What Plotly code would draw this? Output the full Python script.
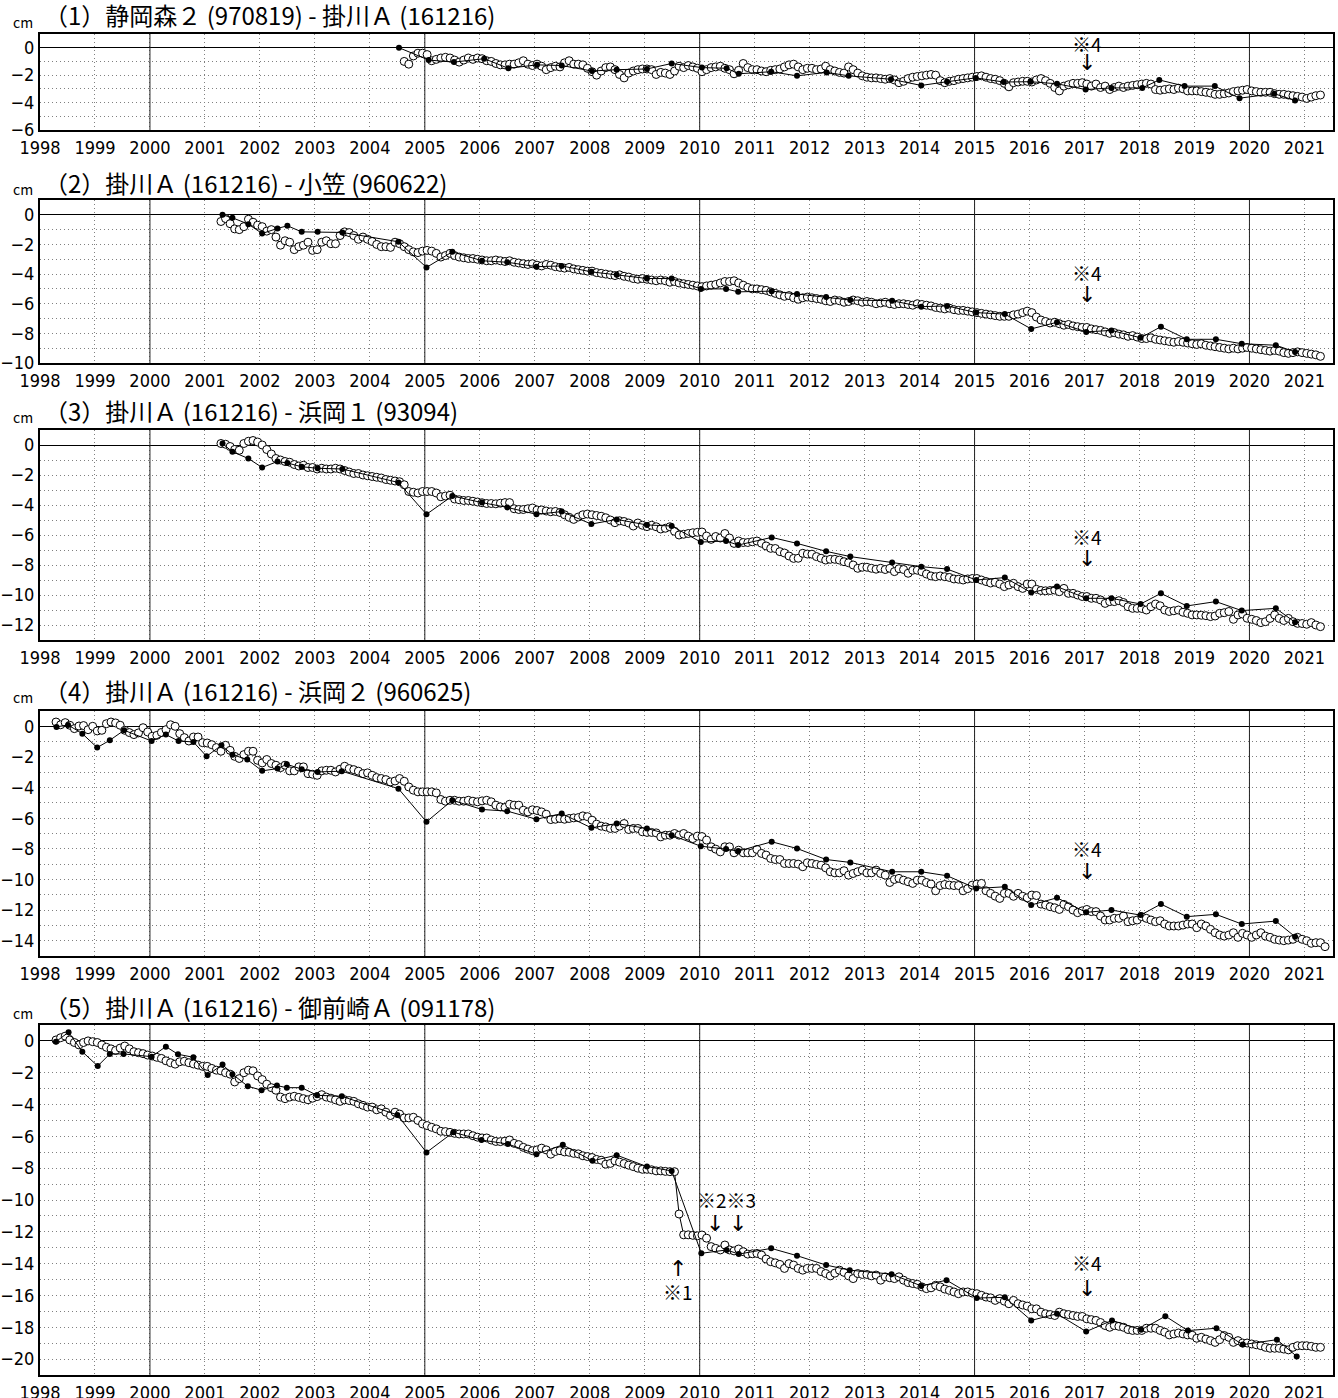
import plotly.graph_objects as go

W, H = 1338, 1398

# ---------------- data ----------------
titles = [
    "（1）静岡森２ (970819) - 掛川Ａ (161216)",
    "（2）掛川Ａ (161216) - 小笠 (960622)",
    "（3）掛川Ａ (161216) - 浜岡１ (93094)",
    "（4）掛川Ａ (161216) - 浜岡２ (960625)",
    "（5）掛川Ａ (161216) - 御前崎Ａ (091178)",
]
years = list(range(1998, 2022))
year_labels = [str(y) for y in years]
major_years = [2000, 2005, 2010, 2015, 2020]

# open circles: monthly values, first month given by *_open_start (year, month)
p1_open_start = (2004, 8)
p1_open = [
    -1.0, -1.2, -0.6, -0.4, -0.4,
    -0.5, -0.95, -0.85, -0.75, -0.7, -0.75, -0.9, -1.05, -0.9, -0.75, -0.85, -0.75,
    -0.8, -0.95, -1.0, -1.15, -1.25, -1.25, -1.2, -1.2, -1.1, -0.95, -1.2, -1.3,
    -1.2, -1.35, -1.6, -1.45, -1.35, -1.4, -1.1, -0.95, -1.2, -1.2, -1.25, -1.5,
    -1.75, -2.0, -1.7, -1.45, -1.4, -1.6, -1.95, -2.2, -1.85, -1.7, -1.6, -1.55,
    -1.55, -1.6, -1.95, -1.8, -1.85, -1.95, -1.7, -1.35, -1.45, -1.3, -1.4, -1.5,
    -1.75, -1.6, -1.45, -1.4, -1.35, -1.5, -1.6, -1.9, -1.65, -1.15, -1.45, -1.6,
    -1.6, -1.7, -1.75, -1.65, -1.6, -1.55, -1.4, -1.25, -1.2, -1.4, -1.6, -1.5,
    -1.5, -1.6, -1.55, -1.35, -1.6, -1.7, -1.8, -1.85, -1.4, -1.6, -1.85, -2.05,
    -2.15, -2.2, -2.2, -2.25, -2.3, -2.25, -2.35, -2.55, -2.45, -2.25, -2.15, -2.1,
    -2.05, -2.0, -1.95, -2.0, -2.4, -2.55, -2.45, -2.4, -2.3, -2.25, -2.2, -2.15,
    -2.1, -2.05, -2.15, -2.25, -2.3, -2.4, -2.6, -2.85, -2.55, -2.5, -2.45, -2.45,
    -2.5, -2.35, -2.25, -2.4, -2.6, -2.9, -3.15, -2.8, -2.7, -2.6, -2.6, -2.55,
    -2.65, -2.8, -2.65, -2.9, -2.8, -3.05, -2.9, -2.8, -2.9, -2.8, -2.75, -2.7,
    -2.65, -2.6, -2.65, -3.05, -3.1, -3.05, -3.0, -3.05, -2.95, -3.0, -3.15, -3.15,
    -3.15, -3.2, -3.25, -3.3, -3.4, -3.4, -3.35, -3.3, -3.2, -3.15, -3.1, -3.05,
    -3.15, -3.2, -3.25, -3.25, -3.25, -3.35, -3.4, -3.4, -3.45, -3.5, -3.55, -3.6,
    -3.7, -3.6, -3.5, -3.45,
]
p1_fill_x = [2004.53, 2005.07, 2005.53, 2006.08, 2006.52, 2007.04, 2007.49, 2008.04, 2008.49,
             2009.04, 2009.49, 2010.04, 2010.49, 2010.71, 2011.30, 2011.77, 2012.31, 2012.71,
             2013.48, 2014.03, 2014.5, 2015.02, 2015.53, 2016.02, 2016.5, 2017.02, 2017.49,
             2018.05, 2018.36, 2018.82, 2019.37, 2019.82, 2020.45, 2020.83]
p1_fill_y = [0.0, -0.9, -1.05, -0.8, -1.5, -1.25, -1.3, -1.7, -1.6, -1.55, -1.15, -1.45, -1.5,
             -1.9, -1.75, -2.05, -1.8, -2.05, -2.3, -2.75, -2.48, -2.2, -2.5, -2.48, -2.63,
             -3.05, -2.93, -2.93, -2.35, -2.8, -2.8, -3.68, -3.35, -3.85]

survey_x_late = [2005.5, 2006.04, 2006.5, 2007.03, 2007.49, 2008.03, 2008.49, 2009.04, 2009.49,
                 2010.02, 2010.48, 2010.7, 2011.31, 2011.77, 2012.3, 2012.74, 2013.5, 2014.03,
                 2014.5, 2015.03, 2015.55, 2016.03, 2016.5, 2017.03, 2017.49, 2018.02, 2018.39,
                 2018.86, 2019.39, 2019.86, 2020.48, 2020.83]

p2_open_start = (2001, 4)
p2_open = [
    -0.45, -0.25, -0.6, -0.95, -1.0, -0.8, -0.3, -0.5, -0.7,
    -0.8, -1.1, -1.0, -1.5, -2.05, -1.75, -1.85, -2.35, -2.15, -2.05, -1.85, -2.4,
    -2.35, -1.85, -1.75, -1.95, -1.95, -1.4, -1.15, -1.2, -1.4, -1.65, -1.5, -1.65,
    -1.8, -2.0, -2.15, -2.15, -2.2, -1.85, -1.95, -2.15, -2.35, -2.5, -2.55, -2.45,
    -2.4, -2.45, -2.6, -2.85, -2.75, -2.6, -2.75, -2.85, -2.9, -2.95, -2.95, -3.0,
    -3.05, -3.1, -3.1, -3.05, -3.1, -3.15, -3.1, -3.2, -3.25, -3.3, -3.35, -3.3,
    -3.4, -3.45, -3.35, -3.4, -3.5, -3.55, -3.6, -3.55, -3.65, -3.7, -3.75, -3.8,
    -3.8, -3.9, -3.95, -4.0, -4.05, -4.1, -4.05, -4.15, -4.2, -4.3, -4.35, -4.3,
    -4.35, -4.4, -4.45, -4.4, -4.45, -4.55, -4.5, -4.6, -4.65, -4.7, -4.75, -4.8,
    -4.85, -4.8, -4.75, -4.7, -4.6, -4.5, -4.5, -4.45, -4.6, -4.75, -4.9, -5.0,
    -5.0, -5.05, -5.1, -5.2, -5.3, -5.4, -5.5, -5.45, -5.6, -5.7, -5.6, -5.55,
    -5.6, -5.65, -5.7, -5.8, -5.85, -5.75, -5.8, -5.9, -5.85, -5.75, -5.8, -5.9,
    -5.85, -5.9, -6.0, -5.95, -5.9, -6.0, -6.05, -6.0, -6.0, -6.05, -6.1, -6.0,
    -6.05, -6.1, -6.15, -6.25, -6.3, -6.35, -6.3, -6.4, -6.45, -6.45, -6.5, -6.55,
    -6.6, -6.65, -6.7, -6.75, -6.8, -6.85, -6.85, -6.85, -6.75, -6.7, -6.6, -6.5,
    -6.6, -6.9, -7.1, -7.2, -7.3, -7.25, -7.35, -7.45, -7.4, -7.5, -7.55, -7.6,
    -7.6, -7.7, -7.75, -7.8, -7.9, -8.0, -7.95, -8.05, -8.1, -8.2, -8.15, -8.25,
    -8.35, -8.35, -8.3, -8.4, -8.45, -8.5, -8.55, -8.6, -8.55, -8.6, -8.65, -8.7,
    -8.75, -8.7, -8.8, -8.85, -8.9, -8.95, -9.0, -9.05, -9.0, -9.05, -9.0, -8.95,
    -9.0, -9.05, -9.1, -9.15, -9.2, -9.15, -9.2, -9.3, -9.35, -9.3, -9.25, -9.3,
    -9.35, -9.4, -9.45, -9.55,
]
p2_fill_x = [2001.32, 2001.5, 2001.79, 2002.04, 2002.32, 2002.5, 2002.76, 2003.05, 2003.5,
             2004.52, 2005.03] + survey_x_late
p2_fill_y = [0.0, -0.2, -0.63, -1.26, -0.92, -0.74, -1.15, -1.15, -1.19, -1.82, -3.55,
             -2.5, -3.1, -3.2, -3.5, -3.45, -3.85, -4.05, -4.3, -4.3, -5.0, -5.0, -5.2,
             -5.15, -5.35, -5.55, -5.75, -5.8, -6.2, -6.15, -6.6, -6.7, -7.7, -7.25, -7.9,
             -7.8, -8.3, -7.55, -8.4, -8.4, -8.7, -8.8, -9.25]

p3_open_start = (2001, 4)
p3_open = [
    0.1, 0.05, -0.1, -0.3, -0.35, 0.1, 0.25, 0.3, 0.2,
    0.0, -0.3, -0.6, -0.9, -1.0, -1.1, -1.15, -1.3, -1.4, -1.35, -1.5, -1.5,
    -1.6, -1.55, -1.6, -1.6, -1.55, -1.6, -1.7, -1.8, -1.9, -1.9, -2.0, -2.05,
    -2.1, -2.15, -2.2, -2.3, -2.35, -2.4, -2.45, -2.65, -3.1, -3.15, -3.2, -3.1,
    -3.1, -3.1, -3.2, -3.45, -3.4, -3.35, -3.6, -3.65, -3.7, -3.7, -3.75, -3.8,
    -3.85, -3.9, -3.9, -3.92, -3.88, -3.84, -3.84, -4.25, -4.3, -4.3, -4.25, -4.2,
    -4.33, -4.33, -4.4, -4.45, -4.43, -4.5, -4.65, -4.82, -4.96, -4.8, -4.65, -4.6,
    -4.65, -4.7, -4.75, -4.85, -5.0, -5.18, -5.05, -5.1, -5.2, -5.4, -5.2, -5.35,
    -5.44, -5.35, -5.45, -5.6, -5.55, -5.45, -5.75, -6.0, -5.95, -5.9, -5.85, -5.82,
    -5.8, -6.07, -6.29, -6.1, -6.2, -5.9, -6.2, -6.56, -6.4, -6.5, -6.5, -6.45,
    -6.4, -6.55, -6.73, -6.89, -6.9, -7.11, -7.2, -7.4, -7.56, -7.55, -7.22, -7.27,
    -7.28, -7.44, -7.55, -7.67, -7.62, -7.62, -7.67, -7.78, -7.85, -8.0, -8.22, -8.15,
    -8.15, -8.22, -8.28, -8.22, -8.3, -8.22, -8.44, -8.25, -8.3, -8.55, -8.35, -8.35,
    -8.45, -8.6, -8.73, -8.78, -8.73, -8.78, -8.83, -8.93, -8.95, -9.0, -8.93, -8.9,
    -8.9, -9.0, -9.1, -9.2, -9.15, -9.27, -9.44, -9.33, -9.22, -9.44, -9.56, -9.27,
    -9.27, -9.62, -9.7, -9.72, -9.7, -9.67, -9.78, -9.56, -9.89, -9.89, -10.0, -10.1,
    -10.1, -10.22, -10.22, -10.33, -10.56, -10.44, -10.44, -10.38, -10.5, -10.78, -10.89, -10.89,
    -10.9, -11.0, -10.78, -10.6, -10.72, -11.0, -11.1, -11.05, -11.0, -11.15, -11.22, -11.33,
    -11.33, -11.35, -11.38, -11.44, -11.4, -11.22, -11.18, -11.1, -11.62, -11.33, -11.27, -11.55,
    -11.62, -11.7, -11.84, -11.78, -11.56, -11.33, -11.56, -11.7, -11.56, -11.78, -11.89, -11.9,
    -11.95, -11.84, -12.0, -12.11,
]
p3_fill_x = p2_fill_x
p3_fill_y = [0.1, -0.45, -0.9, -1.5, -1.1, -1.2, -1.45, -1.55, -1.6, -2.5, -4.62,
             -3.4, -3.84, -4.16, -4.62, -4.44, -5.27, -4.96, -5.33, -5.4, -6.47, -6.4, -6.67,
             -6.16, -6.56, -7.09, -7.44, -7.84, -8.11, -8.27, -9.0, -8.84, -9.84, -9.44,
             -10.22, -10.22, -10.6, -9.89, -10.73, -10.44, -11.04, -10.89, -11.82]

p4_open_start = (1998, 4)
p4_open = [
    0.28, 0.1, 0.24, 0.07, -0.15, 0.02, 0.05, -0.22, 0.0,
    -0.3, -0.26, 0.17, 0.28, 0.22, 0.07, -0.26, -0.41, -0.54, -0.43, -0.09, -0.37,
    -0.65, -0.59, -0.4, -0.22, 0.1, 0.0, -0.48, -0.74, -0.96, -0.7, -0.7, -1.07,
    -1.09, -1.2, -1.39, -1.63, -1.24, -1.57, -1.96, -2.1, -1.85, -1.63, -1.63, -2.22,
    -2.39, -2.17, -2.43, -2.54, -2.7, -2.54, -2.91, -2.91, -2.65, -2.65, -3.09, -3.13,
    -3.2, -2.91, -2.87, -2.87, -2.98, -2.8, -2.61, -2.76, -2.83, -2.93, -3.09, -3.04,
    -3.2, -3.35, -3.41, -3.48, -3.63, -3.57, -3.41, -3.59, -3.96, -4.17, -4.28, -4.28,
    -4.28, -4.28, -4.35, -4.78, -4.89, -4.83, -4.83, -4.89, -4.89, -4.83, -4.89, -4.93,
    -4.87, -4.83, -4.93, -5.15, -5.26, -5.3, -5.09, -5.15, -5.15, -5.48, -5.59, -5.45,
    -5.5, -5.59, -5.74, -6.09, -6.07, -6.02, -6.07, -6.02, -5.98, -5.96, -5.85, -5.9,
    -6.13, -6.39, -6.52, -6.57, -6.67, -6.67, -6.52, -6.35, -6.74, -6.67, -6.67, -6.89,
    -6.93, -6.93, -6.96, -7.22, -7.11, -7.11, -7.0, -7.11, -7.0, -7.17, -7.33, -7.17,
    -7.2, -7.43, -7.87, -8.02, -8.2, -7.87, -7.87, -8.26, -8.09, -8.26, -8.26, -8.26,
    -8.04, -8.3, -8.41, -8.63, -8.7, -8.7, -8.96, -8.96, -8.96, -9.0, -9.17, -8.91,
    -8.96, -9.02, -9.07, -9.24, -9.5, -9.57, -9.57, -9.43, -9.72, -9.61, -9.5, -9.39,
    -9.57, -9.57, -9.39, -9.61, -9.72, -10.2, -10.0, -9.93, -10.05, -10.15, -10.26, -10.05,
    -10.05, -10.2, -10.3, -10.74, -10.4, -10.33, -10.37, -10.4, -10.4, -10.74, -10.6, -10.37,
    -10.3, -10.26, -10.74, -10.91, -11.09, -11.24, -10.91, -10.91, -11.1, -10.91, -11.1, -11.2,
    -11.02, -11.05, -11.61, -11.67, -11.78, -11.85, -11.96, -11.63, -11.78, -12.0, -12.17, -12.05,
    -11.96, -12.1, -12.1, -12.39, -12.65, -12.65, -12.54, -12.54, -12.39, -12.76, -12.7, -12.65,
    -12.43, -12.54, -12.65, -12.76, -12.7, -12.91, -13.04, -13.04, -13.04, -12.98, -12.91, -12.91,
    -13.15, -12.91, -13.04, -13.26, -13.48, -13.63, -13.7, -13.63, -13.48, -13.78, -13.52, -13.63,
    -13.78, -13.63, -13.48, -13.7, -13.78, -13.91, -13.96, -14.0, -13.96, -13.91, -13.78, -13.91,
    -14.0, -14.17, -14.13, -14.13, -14.39,
]
p4_fill_x = [1998.3, 1998.51, 1998.77, 1999.04, 1999.27, 1999.53, 2000.03, 2000.29, 2000.52,
             2000.79, 2001.03, 2001.3, 2001.5, 2001.77, 2002.04, 2002.32, 2002.49, 2002.76,
             2003.05, 2003.49, 2004.52, 2005.03] + survey_x_late
p4_fill_y = [-0.04, 0.09, -0.48, -1.39, -0.91, -0.26, -0.96, -0.54, -0.96, -1.02, -1.96,
             -1.24, -1.85, -2.17, -2.91, -2.76, -2.48, -2.8, -2.98, -2.93, -4.07, -6.24,
             -4.83, -5.43, -5.54, -6.07, -5.7, -6.63, -6.35, -6.67, -7.11, -7.83, -8.02,
             -8.15, -7.54, -7.98, -8.7, -8.89, -9.5, -9.5, -9.76, -10.59, -10.48, -11.67,
             -11.2, -12.15, -12.0, -12.33, -11.61, -12.43, -12.28, -12.91, -12.72, -13.74]

p5_open_start = (1998, 4)
p5_open = [
    0.06, 0.2, 0.3, 0.06, -0.1, -0.25, -0.1, 0.0, -0.05,
    -0.1, -0.25, -0.4, -0.5, -0.6, -0.45, -0.32, -0.5, -0.68, -0.74, -0.8, -0.89,
    -0.95, -1.03, -1.1, -1.25, -1.37, -1.46, -1.31, -1.28, -1.37, -1.45, -1.52, -1.6,
    -1.6, -1.73, -1.84, -1.88, -2.0, -2.09, -2.58, -2.37, -2.0, -1.84, -1.88, -2.2,
    -2.43, -2.72, -2.94, -3.1, -3.53, -3.63, -3.53, -3.48, -3.55, -3.63, -3.7, -3.6,
    -3.5, -3.38, -3.53, -3.6, -3.7, -3.8, -3.7, -3.75, -3.8, -3.95, -4.05, -4.16,
    -4.16, -4.33, -4.27, -4.48, -4.69, -4.48, -4.6, -4.84, -4.84, -4.8, -5.0, -5.22,
    -5.32, -5.43, -5.53, -5.68, -5.7, -5.75, -5.81, -5.85, -5.85, -5.85, -5.96, -6.05,
    -6.1, -6.1, -6.23, -6.32, -6.33, -6.3, -6.23, -6.44, -6.52, -6.69, -6.8, -6.9,
    -6.85, -6.74, -6.85, -7.12, -6.95, -6.9, -6.98, -7.0, -7.07, -7.1, -7.22, -7.27,
    -7.33, -7.45, -7.5, -7.75, -7.7, -7.54, -7.62, -7.71, -7.81, -7.9, -8.0, -8.07,
    -8.07, -8.1, -8.17, -8.17, -8.2, -8.22, -8.22, -10.88, -12.19, -12.19, -12.22, -12.25,
    -12.2, -12.4, -12.93, -13.04, -13.14, -12.83, -13.14, -13.2, -13.08, -13.25, -13.4, -13.38,
    -13.36, -13.46, -13.71, -13.88, -13.95, -14.05, -14.3, -14.0, -14.09, -14.3, -14.41, -14.3,
    -14.3, -14.3, -14.5, -14.62, -14.77, -14.6, -14.41, -14.55, -14.77, -14.94, -14.62, -14.68,
    -14.68, -14.77, -14.72, -15.04, -14.83, -14.89, -14.94, -14.83, -15.04, -15.19, -15.25, -15.3,
    -15.46, -15.57, -15.52, -15.36, -15.46, -15.6, -15.68, -15.78, -15.89, -15.78, -15.78, -15.85,
    -15.89, -15.99, -16.1, -16.15, -16.31, -16.2, -16.36, -16.52, -16.31, -16.52, -16.6, -16.67,
    -16.84, -16.84, -17.05, -17.15, -17.2, -17.26, -17.05, -17.15, -17.2, -17.26, -17.32, -17.32,
    -17.47, -17.52, -17.57, -17.7, -17.89, -18.0, -17.89, -17.94, -18.0, -18.14, -18.2, -18.2,
    -18.2, -18.06, -18.06, -18.06, -18.2, -18.31, -18.48, -18.42, -18.36, -18.42, -18.48, -18.5,
    -18.69, -18.63, -18.74, -18.84, -18.95, -18.78, -18.52, -18.63, -18.95, -18.84, -18.99, -18.99,
    -19.05, -19.1, -19.16, -19.26, -19.32, -19.32, -19.32, -19.37, -19.42, -19.26, -19.16, -19.16,
    -19.16, -19.2, -19.26, -19.26,
]
p5_fill_x = [1998.29, 1998.52, 1998.77, 1999.05, 1999.27, 1999.52, 2000.03, 2000.29, 2000.51,
             2000.79, 2001.05, 2001.32, 2001.5, 2001.78, 2002.03, 2002.31, 2002.49, 2002.76,
             2003.04, 2003.49, 2004.5, 2005.03, 2005.52, 2006.03, 2006.51, 2007.03, 2007.51,
             2008.05, 2008.49, 2009.04, 2009.49, 2010.03, 2010.49, 2010.71, 2011.3, 2011.77,
             2012.3, 2012.73, 2013.49, 2014.03, 2014.49, 2015.04, 2015.55, 2016.03, 2016.5,
             2017.03, 2017.5, 2018.03, 2018.47, 2018.88, 2019.4, 2019.88, 2020.5, 2020.86]
p5_fill_y = [-0.05, 0.55, -0.68, -1.58, -0.82, -0.82, -0.99, -0.36, -0.84, -1.03, -2.15,
             -1.48, -2.09, -2.85, -3.1, -2.81, -2.94, -2.94, -3.42, -3.48, -4.65, -7.01,
             -5.74, -6.23, -6.48, -7.12, -6.53, -7.54, -7.18, -7.9, -8.17, -13.35, -13.14,
             -13.4, -13.04, -13.5, -14.09, -14.41, -14.66, -15.4, -15.04, -16.16, -16.12,
             -17.57, -17.15, -18.27, -17.57, -18.16, -17.3, -18.21, -18.06, -19.09, -18.78,
             -19.83]

# ---------------- layout config ----------------
panels = [
    dict(title=titles[0], yr=(-6, 1), top=34, bot=130, ty=15,
         ostart=p1_open_start, open=p1_open, fx=p1_fill_x, fy=p1_fill_y,
         notes=[("※4", 2017.05, 0.3)], arrows=[("↓", 2017.05, -1.1)]),
    dict(title=titles[1], yr=(-10, 1), top=200, bot=363, ty=182,
         ostart=p2_open_start, open=p2_open, fx=p2_fill_x, fy=p2_fill_y,
         notes=[("※4", 2017.05, -3.9)], arrows=[("↓", 2017.05, -5.4)]),
    dict(title=titles[2], yr=(-13, 1), top=430, bot=640, ty=410,
         ostart=p3_open_start, open=p3_open, fx=p3_fill_x, fy=p3_fill_y,
         notes=[("※4", 2017.05, -6.1)], arrows=[("↓", 2017.05, -7.55)]),
    dict(title=titles[3], yr=(-15, 1), top=711, bot=956, ty=690,
         ostart=p4_open_start, open=p4_open, fx=p4_fill_x, fy=p4_fill_y,
         notes=[("※4", 2017.05, -8.0)], arrows=[("↓", 2017.05, -9.5)]),
    dict(title=titles[4], yr=(-21, 1), top=1025, bot=1375, ty=1006,
         ostart=p5_open_start, open=p5_open, fx=p5_fill_x, fy=p5_fill_y,
         notes=[("※4", 2017.05, -13.95), ("※2※3", 2010.48, -9.95), ("※1", 2009.6, -15.75)],
         arrows=[("↓", 2017.05, -15.55), ("↓", 2010.28, -11.45), ("↓", 2010.7, -11.45),
                 ("↑", 2009.6, -14.3)]),
]

TICKFONT = dict(family="Liberation Sans Narrow, DejaVu Sans Condensed, Arial Narrow, sans-serif",
                size=18, color="black")
JPFONT = "Noto Sans CJK JP"
ARROWFONT = "DejaVu Sans"
GRID = "#808080"
DOT = "1px,3px"

fig = go.Figure()
annotations = []
X0, X1 = 40, 1333

for i, p in enumerate(panels, start=1):
    xa = "x" if i == 1 else f"x{i}"
    ya = "y" if i == 1 else f"y{i}"
    ymin, ymax = p["yr"]

    # solid vertical lines at every 5 years (drawn first, under the data)
    vx, vy = [], []
    for my in major_years:
        vx += [my, my, None]
        vy += [ymin, ymax, None]
    fig.add_trace(go.Scatter(x=vx, y=vy, mode="lines", xaxis=xa, yaxis=ya,
                             line=dict(color="#222222", width=1),
                             showlegend=False, hoverinfo="skip"))

    sy, sm = p["ostart"]
    ox = [sy + (sm - 0.5 + k) / 12.0 for k in range(len(p["open"]))]
    fig.add_trace(go.Scatter(
        x=ox, y=p["open"], mode="lines+markers", xaxis=xa, yaxis=ya,
        line=dict(color="black", width=1),
        marker=dict(symbol="circle", size=8, color="white", line=dict(color="black", width=1)),
        showlegend=False, hoverinfo="skip"))
    fig.add_trace(go.Scatter(
        x=p["fx"], y=p["fy"], mode="lines+markers", xaxis=xa, yaxis=ya,
        line=dict(color="black", width=1),
        marker=dict(symbol="circle", size=6, color="black"),
        showlegend=False, hoverinfo="skip"))

    xkey = "xaxis" if i == 1 else f"xaxis{i}"
    ykey = "yaxis" if i == 1 else f"yaxis{i}"
    fig.update_layout(**{
        xkey: dict(domain=[X0 / W, X1 / W], anchor=ya, range=[1998, 2021.52],
                   tickvals=years, ticktext=year_labels, tickfont=TICKFONT,
                   showgrid=True, gridcolor=GRID, griddash=DOT, gridwidth=1,
                   zeroline=False, showline=True, linecolor="black", linewidth=2,
                   mirror=True, ticks="", automargin=False),
        ykey: dict(domain=[1 - p["bot"] / H, 1 - p["top"] / H], anchor=xa,
                   range=[ymin, ymax], tickvals=list(range(0, ymin - 1, -2)),
                   tickfont=TICKFONT, showgrid=True, gridcolor=GRID, griddash=DOT,
                   gridwidth=1, minor=dict(dtick=1, tick0=0, showgrid=True, gridcolor=GRID,
                                           griddash=DOT, gridwidth=1),
                   zeroline=True, zerolinecolor="black", zerolinewidth=1,
                   showline=True, linecolor="black", linewidth=2, mirror=True,
                   ticks="", automargin=False),
    })

    annotations.append(dict(text=p["title"], xref="paper", yref="paper",
                            x=42 / W, y=1 - p["ty"] / H, xanchor="left", yanchor="middle",
                            showarrow=False, font=dict(family=JPFONT, size=24, color="black")))
    annotations.append(dict(text="cm", xref="paper", yref="paper",
                            x=11 / W, y=1 - (p["ty"] + 7) / H, xanchor="left", yanchor="middle",
                            showarrow=False, font=dict(family=JPFONT, size=14, color="black")))
    for txt, nx, ny in p["notes"]:
        annotations.append(dict(text=txt, xref=xa, yref=ya, x=nx, y=ny, showarrow=False,
                                xanchor="center", yanchor="middle",
                                font=dict(family=JPFONT, size=19, color="black")))
    for txt, nx, ny in p["arrows"]:
        annotations.append(dict(text=txt, xref=xa, yref=ya, x=nx, y=ny, showarrow=False,
                                xanchor="center", yanchor="middle",
                                font=dict(family=ARROWFONT, size=22, color="black")))

fig.update_layout(width=W, height=H, margin=dict(l=0, r=0, t=0, b=0),
                  paper_bgcolor="white", plot_bgcolor="white",
                  annotations=annotations, showlegend=False)

fig.write_html("out.html",
               config={"displayModeBar": False},
               post_script="document.body.style.margin='0px';"
                           "document.documentElement.style.overflow='hidden';"
                           "document.body.style.overflow='hidden';")
